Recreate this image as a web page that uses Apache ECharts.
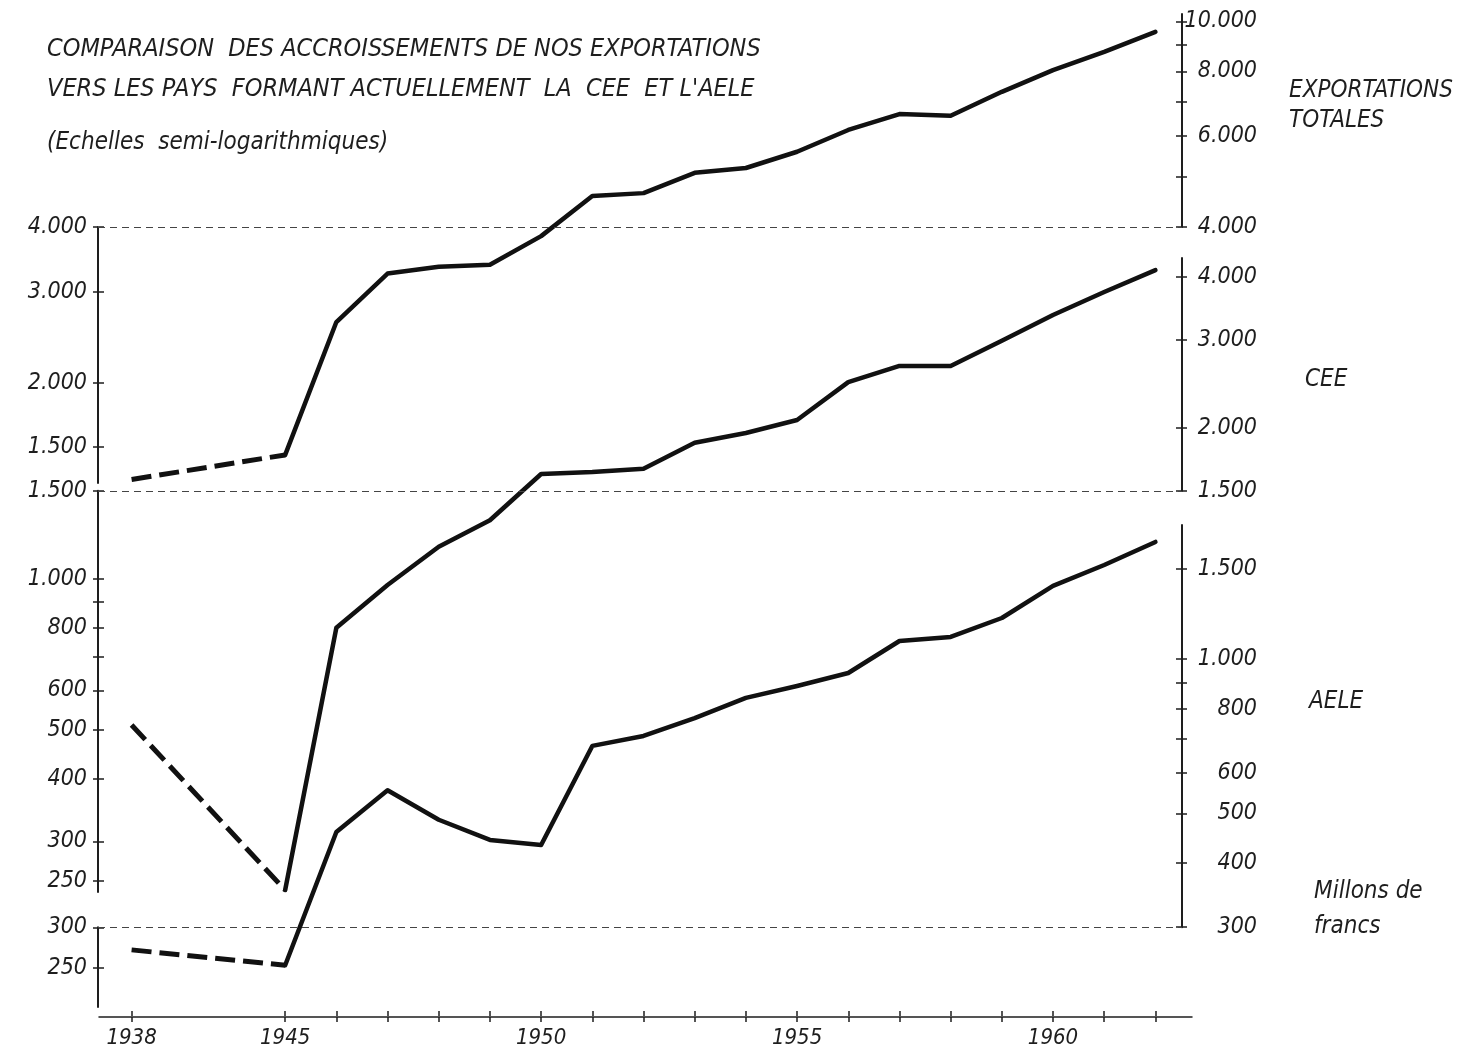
<!DOCTYPE html>
<html><head><meta charset="utf-8">
<script src="https://cdn.jsdelivr.net/npm/echarts@6/dist/echarts.min.js"></script>
<style>html,body{margin:0;padding:0;background:#fff}#c{width:1465px;height:1052px}</style>
</head><body><div id="c"></div>
<script>
// ---------------- DATA ----------------
const years = ['1938','',' ','1945','1946','1947','1948','1949','1950','1951','1952','1953','1954','1955','1956','1957','1958','1959','1960','1961','1962'];
const yearLabels = ['1938','1945','1950','1955','1960'];
const totalValues = [1300, null, null, 1450, 2620, 3250, 3350, 3380, 3840, 4590, 4650, 5090, 5200, 5590, 6160, 6610, 6560, 7300, 8040, 8720, 9530];
const ceeValues   = [512, null, null, 240, 800, 973, 1160, 1310, 1620, 1635, 1660, 1870, 1955, 2075, 2470, 2660, 2660, 2985, 3360, 3735, 4130];
const aeleValues  = [271, null, null, 253, 460, 555, 486, 444, 434, 677, 708, 767, 840, 886, 939, 1084, 1104, 1202, 1388, 1525, 1691];
const prewarEnd = 3; // index of 1945 : dashed before, solid after

const totalLeftTicks  = [1500, 2000, 3000, 4000];
const totalLeftLabels = [1500, 2000, 3000, 4000];
const totalRightTicks  = [4000, 5000, 6000, 7000, 8000, 9000, 10000];
const totalRightLabels = [4000, 6000, 8000, 10000];
const ceeLeftTicks  = [250, 300, 400, 500, 600, 700, 800, 900, 1000, 1500];
const ceeLeftLabels = [250, 300, 400, 500, 600, 800, 1000, 1500];
const ceeRightTicks  = [1500, 2000, 3000, 4000];
const ceeRightLabels = [1500, 2000, 3000, 4000];
const aeleLeftTicks  = [250, 300];
const aeleLeftLabels = [250, 300];
const aeleRightTicks  = [300, 400, 500, 600, 700, 800, 900, 1000, 1500];
const aeleRightLabels = [300, 400, 500, 600, 800, 1000, 1500];
const guideTotal = 4000, guideCee = 1500, guideAele = 300;

// ---------------- LAYOUT ----------------
const FONT = "'DejaVu Sans Condensed', 'Liberation Sans Narrow', 'DejaVu Sans', sans-serif";
const INK = '#1e1e1e';
const PLOT_H = 1017;          // main grid: top 0 .. 1017
const AX_L = 98, AX_R = 1182;
const MAIN_L = 106, MAIN_W = 1075;
// semi-log calibration of each scale (pixel y of log10 value)
const CAL = {
  total: {y0: 190, L0: 3.6735, b: 517.3},
  cee:   {y0: 609.5, L0: 2.9394, b: 501.7},
  aele:  {y0: 659, L0: 3.0, b: 513}
};
const yOf = (c, v) => c.y0 - c.b * (Math.log10(v) - c.L0);
const vOf = (c, y) => Math.pow(10, c.L0 + (c.y0 - y) / c.b);
const fmt = v => { v = Math.round(v); return v >= 1000 ? Math.floor(v / 1000) + '.' + String(v % 1000).padStart(3, '0') : String(v); };

const grids = [], xAxes = [], yAxes = [], series = [];
const tickStyle = {color: INK, width: 1.5};

// grid 0 : data
grids.push({left: MAIN_L, width: MAIN_W, top: 0, height: PLOT_H});
const tickOk = (i, v) => v.trim() !== '';
xAxes.push({gridIndex: 0, type: 'category', data: years, boundaryGap: true, position: 'bottom',
  axisLine: {show: false},
  axisTick: {show: true, alignWithLabel: true, interval: tickOk, length: 5, lineStyle: tickStyle},
  axisLabel: {interval: (i, v) => yearLabels.includes(v), margin: 10, fontFamily: FONT, fontSize: 22, fontStyle: 'italic', color: INK},
  splitLine: {show: false}});
['total', 'cee', 'aele'].forEach(k => {
  const c = CAL[k];
  yAxes.push({gridIndex: 0, type: 'log', logBase: 10, min: vOf(c, PLOT_H), max: vOf(c, 0), show: false});
});

// grid 1 : horizontal dashed guides between the two axes
grids.push({left: AX_L, width: AX_R - AX_L, top: 0, height: PLOT_H});
xAxes.push({gridIndex: 1, type: 'value', min: 0, max: 1, show: false});
['total', 'cee', 'aele'].forEach(k => {
  const c = CAL[k];
  yAxes.push({gridIndex: 1, type: 'log', logBase: 10, min: vOf(c, PLOT_H), max: vOf(c, 0), show: false});
});
[guideTotal, guideCee, guideAele].forEach((lv, i) => {
  series.push({type: 'line', xAxisIndex: 1, yAxisIndex: 3 + i, data: [], silent: true,
    markLine: {silent: true, symbol: ['none', 'none'], animation: false, label: {show: false},
      lineStyle: {type: [7, 5], color: '#444', width: 1.1}, data: [{yAxis: lv}]}});
});

// grid 2 : upward half of the x tick crosses
grids.push({left: MAIN_L, width: MAIN_W, top: PLOT_H - 1, height: 1});
xAxes.push({gridIndex: 2, type: 'category', data: years, boundaryGap: true, position: 'top',
  axisLine: {show: false, onZero: false}, axisLabel: {show: false},
  axisTick: {show: true, alignWithLabel: true, interval: tickOk, length: 5, lineStyle: tickStyle}});
yAxes.push({gridIndex: 2, type: 'value', show: false});

// axis segments (left and right)
const segs = [
  {k: 'total', side: 'left',  top: yOf(CAL.total, 4000), bottom: 483, ticks: totalLeftTicks, labels: totalLeftLabels},
  {k: 'cee',   side: 'left',  top: yOf(CAL.cee, 1500),   bottom: 892, ticks: ceeLeftTicks, labels: ceeLeftLabels},
  {k: 'aele',  side: 'left',  top: yOf(CAL.aele, 300),   bottom: 1007, ticks: aeleLeftTicks, labels: aeleLeftLabels},
  {k: 'total', side: 'right', top: yOf(CAL.total, 10000) - 7, bottom: yOf(CAL.total, 4000), ticks: totalRightTicks, labels: totalRightLabels},
  {k: 'cee',   side: 'right', top: 258, bottom: yOf(CAL.cee, 1500), ticks: ceeRightTicks, labels: ceeRightLabels},
  {k: 'aele',  side: 'right', top: 525, bottom: yOf(CAL.aele, 300), ticks: aeleRightTicks, labels: aeleRightLabels}
];
segs.forEach(s => {
  const gi = grids.length;
  const c = CAL[s.k];
  grids.push({left: s.side === 'left' ? AX_L : AX_R - 1, width: 1, top: s.top, height: s.bottom - s.top});
  xAxes.push({gridIndex: gi, type: 'value', min: 0, max: 1, show: false});
  const base = {gridIndex: gi, type: 'log', logBase: 10,
    min: vOf(c, s.bottom) / 1.0008, max: vOf(c, s.top) * 1.0008, splitLine: {show: false}, minorTick: {show: false}};
  yAxes.push(Object.assign({}, base, {position: s.side,
    axisLine: {show: true, onZero: false, lineStyle: {color: INK, width: 2}},
    axisTick: {show: true, length: 5, customValues: s.ticks, lineStyle: tickStyle},
    axisLabel: {show: true, customValues: s.labels, formatter: fmt, margin: s.side === 'left' ? 11 : 75,
      align: 'right', fontFamily: FONT, fontSize: 23, fontStyle: 'italic', color: INK}
  }));
  // opposite half of the "+" ticks
  yAxes.push(Object.assign({}, base, {position: s.side === 'left' ? 'right' : 'left',
    axisLine: {show: false, onZero: false}, axisLabel: {show: false},
    axisTick: {show: true, length: 5, customValues: s.ticks, lineStyle: tickStyle}
  }));
});

// x axis line
{
  const gi = grids.length;
  grids.push({left: 99, width: 1093, top: PLOT_H - 2, height: 2});
  xAxes.push({gridIndex: gi, type: 'value', min: 0, max: 1, position: 'bottom',
    axisLine: {show: true, onZero: false, lineStyle: {color: INK, width: 1.5}}, axisTick: {show: false}, axisLabel: {show: false}, splitLine: {show: false}});
  yAxes.push({gridIndex: gi, type: 'value', show: false});
}

// data series
[[totalValues, 0], [ceeValues, 1], [aeleValues, 2]].forEach(([vals, yi]) => {
  const pre = vals.map((v, i) => i <= prewarEnd ? v : null);
  const post = vals.map((v, i) => i >= prewarEnd ? v : null);
  series.push({type: 'line', xAxisIndex: 0, yAxisIndex: yi, data: pre, connectNulls: true, symbol: 'none', silent: true,
    lineStyle: {color: '#111', width: 5, type: [20, 8], cap: 'butt'}});
  series.push({type: 'line', xAxisIndex: 0, yAxisIndex: yi, data: post, connectNulls: false, symbol: 'none', silent: true,
    lineStyle: {color: '#111', width: 4.5, type: 'solid', cap: 'round', join: 'round'}});
});

const ts = (size, extra) => Object.assign({fontFamily: FONT, fontSize: size, fontStyle: 'italic', fontWeight: 'normal', color: INK}, extra || {});
const option = {
  backgroundColor: '#ffffff',
  animation: false,
  title: [
    {text: 'COMPARAISON  DES ACCROISSEMENTS DE NOS EXPORTATIONS', left: 42, top: 32, textStyle: ts(25)},
    {text: "VERS LES PAYS  FORMANT ACTUELLEMENT  LA  CEE  ET L'AELE", left: 42, top: 72, textStyle: ts(25)},
    {text: '(Echelles  semi-logarithmiques)', left: 42, top: 126, textStyle: ts(24)},
    {text: 'EXPORTATIONS\nTOTALES', left: 1284, top: 71, textStyle: ts(24, {lineHeight: 30})},
    {text: 'CEE', left: 1300, top: 363, textStyle: ts(24)},
    {text: 'AELE', left: 1304, top: 685, textStyle: ts(24)},
    {text: 'Millons de\nfrancs', left: 1309, top: 869, textStyle: ts(24, {lineHeight: 35})}
  ],
  grid: grids,
  xAxis: xAxes,
  yAxis: yAxes,
  series: series
};
const chart = echarts.init(document.getElementById('c'), null, {renderer: 'canvas'});
chart.setOption(option);
</script></body></html>
